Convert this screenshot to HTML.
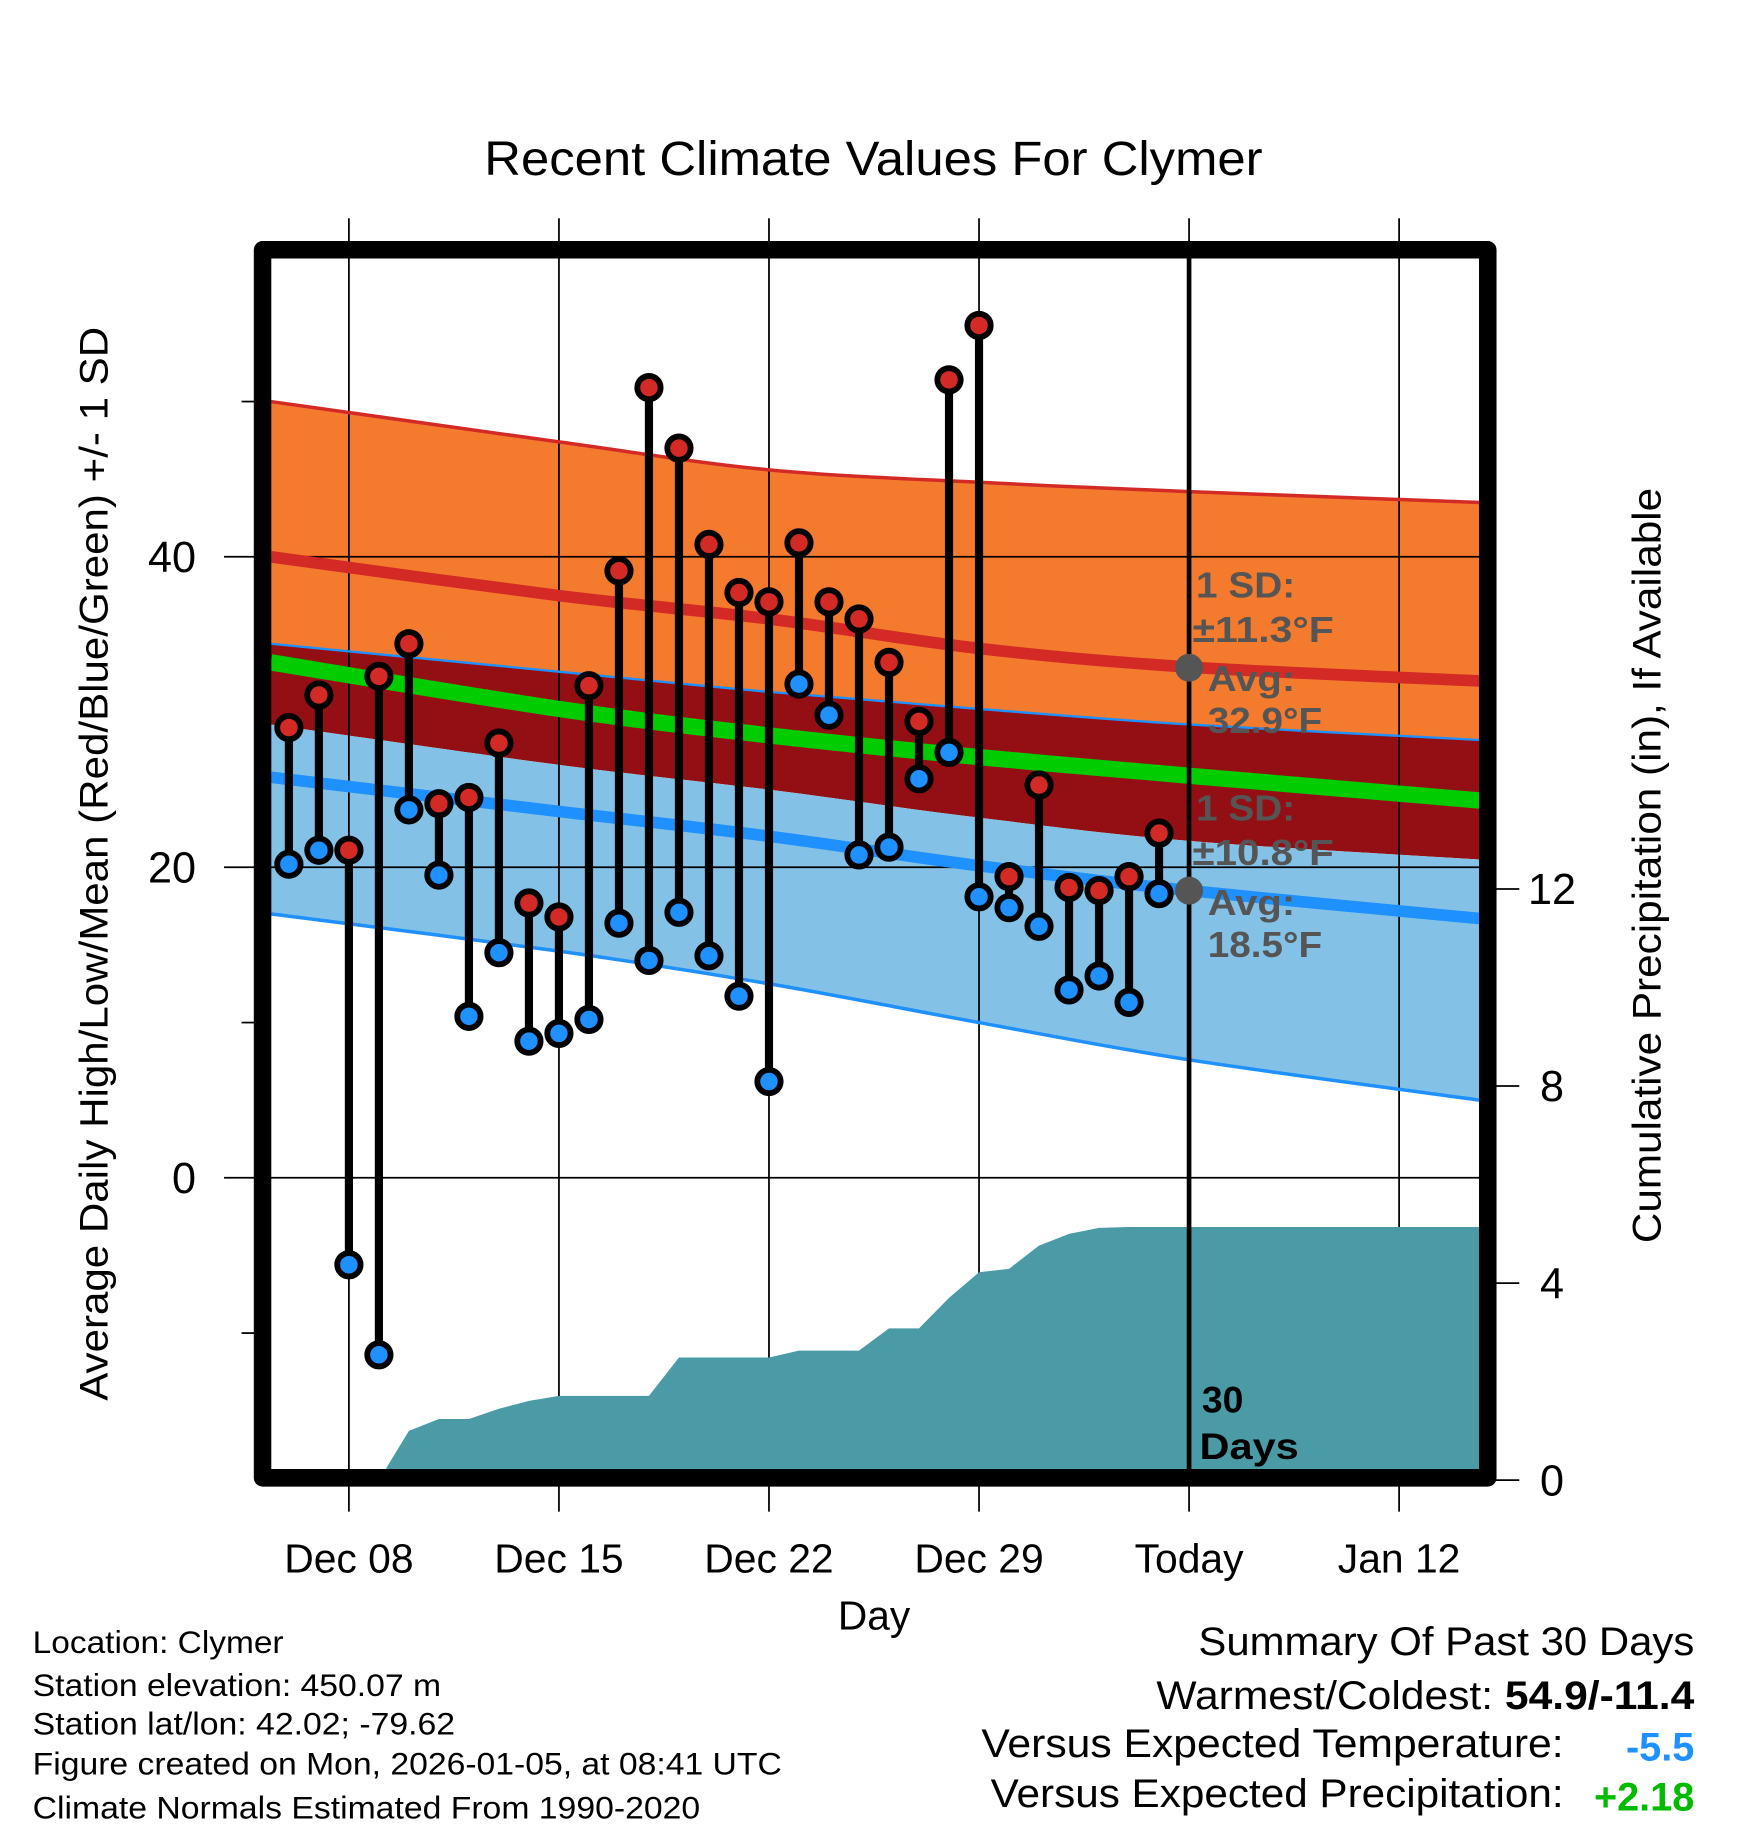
<!DOCTYPE html>
<html><head><meta charset="utf-8"><style>
html,body{margin:0;padding:0;background:#fff}
svg{display:block}
text{font-family:"Liberation Sans",Arial,sans-serif}
</style></head><body>
<svg id="chart" width="1748" height="1828" viewBox="0 0 1498 1566" preserveAspectRatio="none" xmlns="http://www.w3.org/2000/svg">
<text x="415" y="150" font-size="41" textLength="667" lengthAdjust="spacingAndGlyphs">Recent Climate Values For Clymer</text>
<g id="fills"></g><g id="grid"></g><g id="lines"></g><g id="precip"></g><g id="marks"></g><g id="overlay"></g>
</svg>
<script>
const days=[6,7,8,9,10,11,12,13,14,15,16,17,18,19,20,21,22,23,24,25,26,27,28,29,30,31,32,33,34,35];
const highs=[29.0,31.1,21.1,32.3,34.4,24.1,24.5,28.0,17.7,16.8,31.7,39.1,50.9,47.0,40.8,37.7,37.1,40.9,37.1,36.0,33.2,29.4,51.4,54.9,19.4,25.3,18.7,18.5,19.4,22.2];
const lows=[20.2,21.1,-5.6,-11.4,23.7,19.5,10.4,14.5,8.8,9.3,10.2,16.4,14.0,17.1,14.3,11.7,6.2,31.8,29.8,20.8,21.3,25.7,27.4,18.1,17.4,16.2,12.1,13.0,11.3,18.3];
const normDays=[5.4,15,22,29,36,45.7];
const hiUpper=[50.0,47.4,45.6,44.8,44.2,43.5];
const hiMean=[40.0,37.5,36.0,34.1,32.9,32.0];
const hiLower=[34.4,32.6,31.3,30.2,29.2,28.2];
const meanNorm=[33.2,30.2,28.5,27.1,25.9,24.3];
const loUpper=[29.2,26.6,25.0,23.2,21.7,20.5];
const loMean=[25.8,23.6,22.0,20.1,18.5,16.7];
const loLower=[17.0,14.6,12.5,10.0,7.6,5.0];
const precipDays=[9,10,11,12,13,14,15,16,17,18,19,20,21,22,23,24,25,26,27,28,29,30,31,32,33,34,35,36,45.7];
const precipVals=[0,1.0,1.24,1.24,1.45,1.61,1.71,1.71,1.71,1.71,2.49,2.49,2.49,2.49,2.63,2.63,2.63,3.08,3.08,3.70,4.22,4.29,4.76,5.0,5.12,5.14,5.14,5.14,5.14];
const xTickDays=[8,15,22,29,36,43];
const xTickLabels=["Dec 08","Dec 15","Dec 22","Dec 29","Today","Jan 12"];
const yTicks=[40,20,0];
const yMinor=[50,10,-10];
const pTicks=[0,4,8,12];

const X=d=>299+(d-8)*180/7;
const Y=v=>1009-v*13.3;
const P=v=>1268-v*42.2;
const NS="http://www.w3.org/2000/svg";
function mk(tag,attrs,parent,txt){const e=document.createElementNS(NS,tag);for(const k in attrs)e.setAttribute(k,attrs[k]);if(txt!==undefined)e.textContent=txt;document.getElementById(parent).appendChild(e);return e;}
function curve(pts){let d="";for(let i=0;i<pts.length-1;i++){const p0=pts[Math.max(i-1,0)],p1=pts[i],p2=pts[i+1],p3=pts[Math.min(i+2,pts.length-1)];
const c1=[p1[0]+(p2[0]-p0[0])/6,p1[1]+(p2[1]-p0[1])/6],c2=[p2[0]-(p3[0]-p1[0])/6,p2[1]-(p3[1]-p1[1])/6];
d+=" C"+c1.join(",")+" "+c2.join(",")+" "+p2.join(",");}return d;}
function pts(arr){return normDays.map((t,i)=>[X(t),Y(arr[i])]);}
function band(up,lo,fill,name){const up_=pts(up),lp=pts(lo).reverse();
const d="M"+up_[0].join(",")+curve(up_)+" L"+lp[0].join(",")+curve(lp)+" Z";
const e=mk("path",{d:d,fill:fill},"fills");

}
function line(arr,col,w,name){const p=pts(arr);const e=mk("path",{d:"M"+p[0].join(",")+curve(p),stroke:col,"stroke-width":w,fill:"none"},"lines");

}
band(hiUpper,hiLower,"#f47a2e","high-sd-band");
band(hiLower,loUpper,"#930f14","overlap-band");
band(loUpper,loLower,"#84c1e6","low-sd-band");
line(hiUpper,"#d42a25",3,"high-upper-line");
line(hiMean,"#d42a25",10,"normal-high-line");
line(hiLower,"#1e90ff",2,"high-lower-line");
line(meanNorm,"#00cc00",14,"normal-mean-line");
line(loMean,"#1e90ff",10,"normal-low-line");
line(loLower,"#1e90ff",3,"low-lower-line");
xTickDays.forEach((d,i)=>{const g=mk("line",{x1:X(d),x2:X(d),y1:187,y2:1295,stroke:"#000","stroke-width":1.5},"grid");


const t=mk("text",{x:X(d),y:1347,"font-size":35,"text-anchor":"middle"},"overlay",xTickLabels[i]);

});
yTicks.forEach(v=>{const g=mk("line",{x1:192,x2:1268,y1:Y(v),y2:Y(v),stroke:"#000","stroke-width":1.5},"grid");


const t=mk("text",{x:168,y:Y(v)+13,"font-size":37,"text-anchor":"end"},"overlay",String(v));

});
yMinor.forEach(v=>{const g=mk("line",{x1:207,x2:220,y1:Y(v),y2:Y(v),stroke:"#000","stroke-width":1.5},"grid");

});
pTicks.forEach(v=>{const g=mk("line",{x1:1276,x2:1302,y1:P(v),y2:P(v),stroke:"#000","stroke-width":1.5},"overlay");


const t=mk("text",{x:1330,y:P(v)+13,"font-size":37,"text-anchor":"middle"},"overlay",String(v));

});
mk("clipPath",{id:"plotclip"},"precip");
const cr=document.createElementNS(NS,"rect");cr.setAttribute("x",232);cr.setAttribute("y",220);cr.setAttribute("width",1036);cr.setAttribute("height",1039);
document.getElementById("plotclip").appendChild(cr);
let pd="M"+X(precipDays[0])+","+P(0)+" "+precipDays.map((d,i)=>"L"+Math.min(X(d),1268)+","+P(precipVals[i])).join(" ")+" L1268,1290 L"+X(precipDays[0])+",1290Z";
const pa=mk("path",{d:pd,fill:"#4a9ba5","clip-path":"url(#plotclip)"},"precip");


const tl=mk("line",{x1:X(36),x2:X(36),y1:220,y2:1259,stroke:"#000","stroke-width":4},"precip");


days.forEach((d,i)=>{const s=mk("line",{x1:X(d),x2:X(d),y1:Y(highs[i]),y2:Y(lows[i]),stroke:"#000","stroke-width":7},"marks");


const h=mk("circle",{cx:X(d),cy:Y(highs[i]),r:10,fill:"#d42a25",stroke:"#000","stroke-width":5},"marks");


const l=mk("circle",{cx:X(d),cy:Y(lows[i]),r:10,fill:"#1e90ff",stroke:"#000","stroke-width":5},"marks");

});
</script>
<script>
(function(){
const o=document.getElementById("overlay");
o.insertAdjacentHTML("beforeend",`
<rect x="225" y="214" width="1050" height="1052" fill="none" stroke="#000" stroke-width="15" stroke-linejoin="round"/>
<circle cx="1019" cy="572" r="12" fill="#555"/>
<circle cx="1019" cy="763" r="12" fill="#555"/>
<g font-weight="bold" font-size="31" fill="#555">
<text x="1025" y="512" textLength="85" lengthAdjust="spacingAndGlyphs">1 SD:</text>
<text x="1022" y="550" textLength="121" lengthAdjust="spacingAndGlyphs">±11.3°F</text>
<text x="1035" y="592" textLength="75" lengthAdjust="spacingAndGlyphs">Avg:</text>
<text x="1035" y="628" textLength="98" lengthAdjust="spacingAndGlyphs">32.9°F</text>
<text x="1025" y="703" textLength="85" lengthAdjust="spacingAndGlyphs">1 SD:</text>
<text x="1022" y="741" textLength="121" lengthAdjust="spacingAndGlyphs">±10.8°F</text>
<text x="1035" y="784" textLength="75" lengthAdjust="spacingAndGlyphs">Avg:</text>
<text x="1035" y="820" textLength="98" lengthAdjust="spacingAndGlyphs">18.5°F</text>
</g>
<text x="1030" y="1210" font-size="32" font-weight="bold">30</text>
<text x="1028" y="1250" font-size="32" font-weight="bold" textLength="85" lengthAdjust="spacingAndGlyphs">Days</text>
<text x="718" y="1396" font-size="35" textLength="62" lengthAdjust="spacingAndGlyphs">Day</text>
<text transform="translate(92,1200) rotate(-90)" font-size="34" textLength="920" lengthAdjust="spacingAndGlyphs">Average Daily High/Low/Mean (Red/Blue/Green) +/- 1 SD</text>
<text transform="translate(1423,1065) rotate(-90)" font-size="34" textLength="647" lengthAdjust="spacingAndGlyphs">Cumulative Precipitation (in), If Available</text>
<g font-size="27">
<text x="28" y="1416" textLength="215" lengthAdjust="spacingAndGlyphs">Location: Clymer</text>
<text x="28" y="1453" textLength="350" lengthAdjust="spacingAndGlyphs">Station elevation: 450.07 m</text>
<text x="28" y="1486" textLength="362" lengthAdjust="spacingAndGlyphs">Station lat/lon: 42.02; -79.62</text>
<text x="28" y="1520" textLength="642" lengthAdjust="spacingAndGlyphs">Figure created on Mon, 2026-01-05, at 08:41 UTC</text>
<text x="28" y="1558" textLength="572" lengthAdjust="spacingAndGlyphs">Climate Normals Estimated From 1990-2020</text>
</g>
<g font-size="34">
<text x="1027" y="1418" textLength="425" lengthAdjust="spacingAndGlyphs">Summary Of Past 30 Days</text>
<text x="991" y="1464" textLength="461" lengthAdjust="spacingAndGlyphs">Warmest/Coldest: <tspan font-weight="bold">54.9/-11.4</tspan></text>
<text x="841" y="1505" textLength="499" lengthAdjust="spacingAndGlyphs">Versus Expected Temperature:</text>
<text x="1452" y="1508" font-weight="bold" fill="#1e90ff" text-anchor="end">-5.5</text>
<text x="849" y="1548" textLength="491" lengthAdjust="spacingAndGlyphs">Versus Expected Precipitation:</text>
<text x="1452" y="1551" font-weight="bold" fill="#00bb00" text-anchor="end">+2.18</text>
</g>`);
})();
</script>
</body></html>
